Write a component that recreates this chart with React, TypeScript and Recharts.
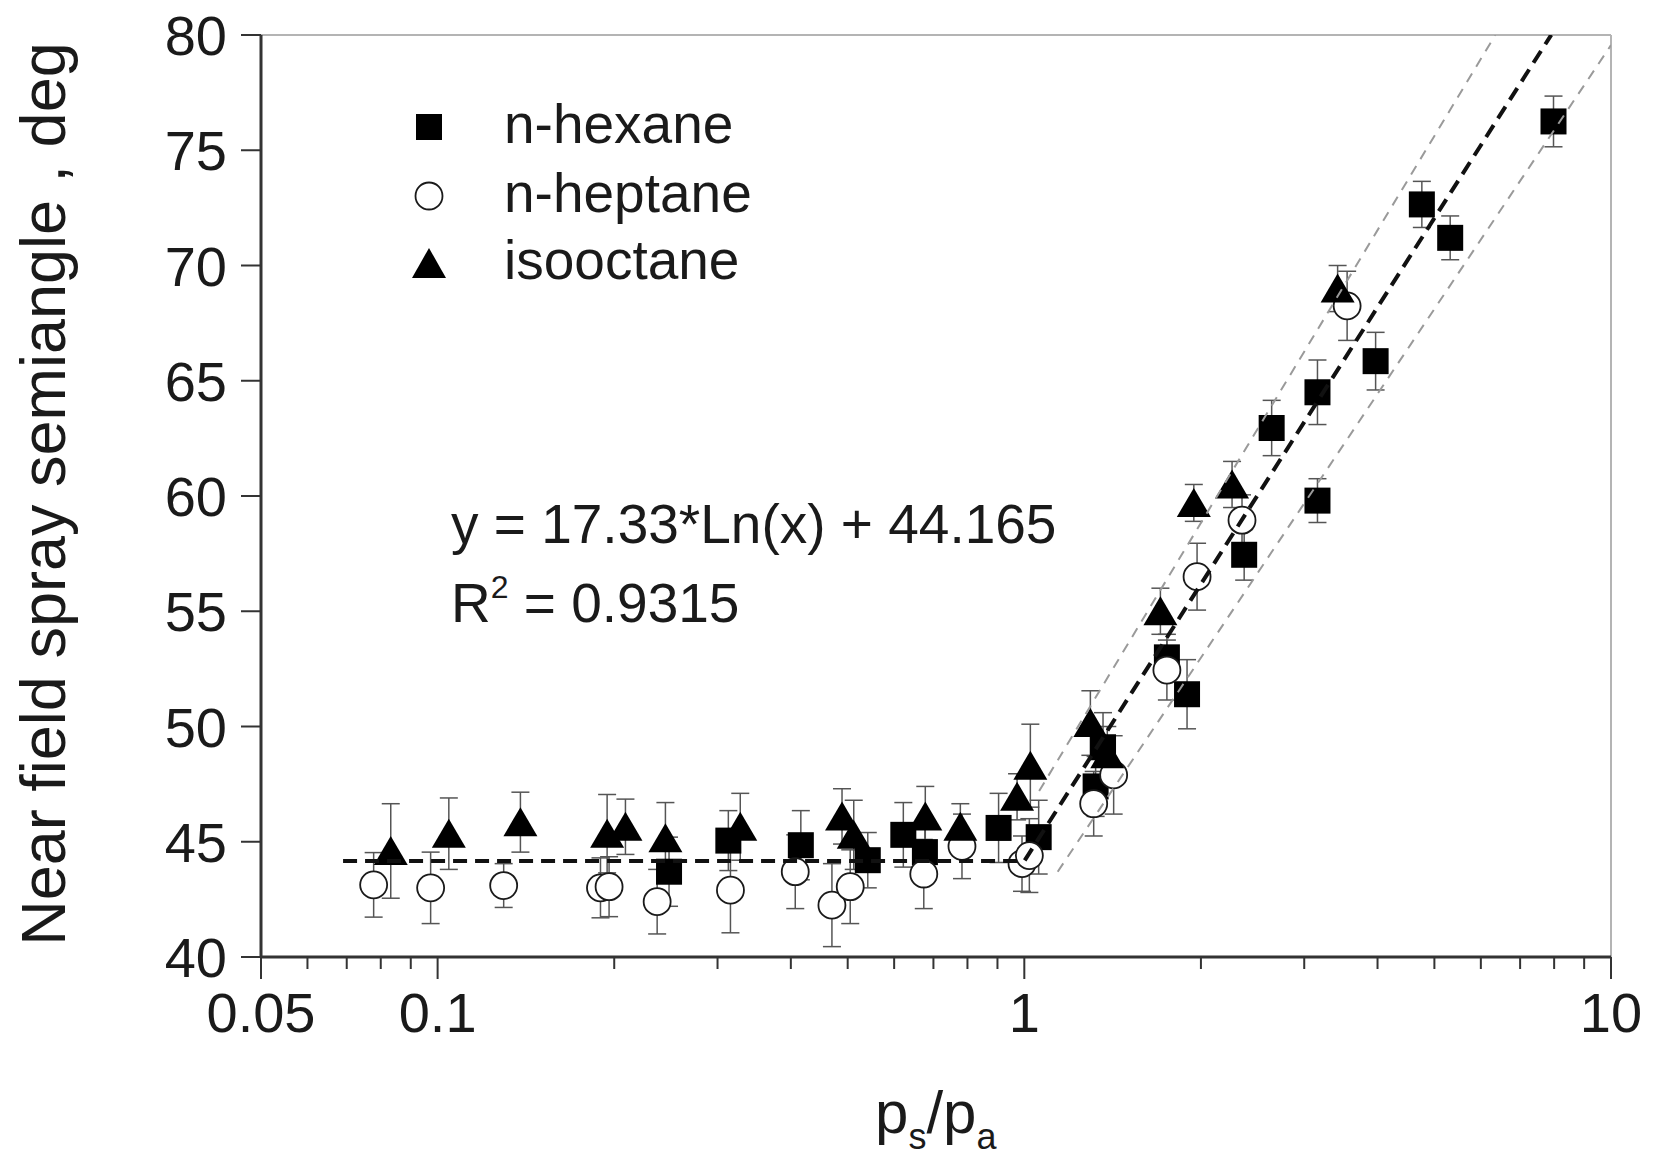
import React from "react";
import { ScatterChart, Scatter, XAxis, YAxis, ErrorBar, ReferenceLine } from "recharts";

// n-hexane (filled squares)
const hexaneX = [0.248, 0.313, 0.416, 0.541, 0.622, 0.677, 0.904, 1.058, 1.323, 1.362, 1.75, 1.894, 2.37, 2.64, 3.16, 3.16, 3.97, 4.76, 5.32, 7.98];
const hexaneY = [43.7, 45.05, 44.85, 44.2, 45.3, 44.55, 45.6, 45.2, 47.4, 49.1, 53.0, 51.4, 57.45, 62.95, 64.5, 59.8, 65.85, 72.65, 71.2, 76.25];
const hexaneErr = [1.5, 1.3, 1.5, 1.2, 1.4, 1.3, 1.5, 1.6, 1.3, 1.5, 1.0, 1.5, 1.1, 1.2, 1.4, 0.95, 1.25, 1.0, 0.95, 1.1];

// n-heptane (open circles)
const heptaneX = [0.0778, 0.0973, 0.1296, 0.1895, 0.196, 0.2367, 0.3156, 0.407, 0.47, 0.505, 0.674, 0.783, 0.991, 1.02, 1.313, 1.42, 1.75, 1.97, 2.35, 3.55];
const heptaneY = [43.13, 43.0, 43.1, 43.0, 43.05, 42.4, 42.9, 43.7, 42.25, 43.05, 43.6, 44.8, 44.05, 44.4, 46.65, 47.9, 52.45, 56.5, 58.95, 68.25];
const heptaneErr = [1.4, 1.55, 0.95, 1.3, 1.3, 1.4, 1.85, 1.6, 1.8, 1.6, 1.5, 1.4, 1.2, 1.6, 1.4, 1.7, 1.3, 1.45, 1.1, 1.5];

// isooctane (filled triangles)
const isooctaneX = [0.0832, 0.1045, 0.1384, 0.1945, 0.209, 0.2445, 0.328, 0.489, 0.512, 0.678, 0.778, 0.972, 1.024, 1.296, 1.385, 1.706, 1.945, 2.26, 3.42];
const isooctaneY = [44.6, 45.35, 45.85, 45.35, 45.65, 45.15, 45.65, 46.1, 45.3, 46.1, 45.65, 46.95, 48.3, 50.15, 48.8, 55.0, 59.7, 60.5, 69.0];
const isooctaneErr = [2.05, 1.55, 1.3, 1.7, 1.2, 1.55, 1.45, 1.2, 1.5, 1.3, 1.0, 1.0, 1.8, 1.4, 1.2, 1.0, 0.8, 1.0, 1.0];

// fit: plateau at the intercept below x = 1, log law above
const fitSlope = 17.33;
const fitIntercept = 44.165;
const fitR2 = 0.9315;
const fitX = [0.069, 1, 7.91];

// confidence band end points
const upperBandX = [1.06, 6.35];
const upperBandY = [47.2, 80];
const lowerBandX = [1.14, 10];
const lowerBandY = [43.7, 79.56];

const xTicks = [0.05, 0.06, 0.07, 0.08, 0.09, 0.1, 0.2, 0.3, 0.4, 0.5, 0.6, 0.7, 0.8, 0.9, 1, 2, 3, 4, 5, 6, 7, 8, 9, 10];
const xLabelTicks = [0.05, 0.1, 1, 10];
const yTicks = [40, 45, 50, 55, 60, 65, 70, 75, 80];

const FONT = "'Liberation Sans', Arial, sans-serif";

const toPoints = (xs: number[], ys: number[], errs?: number[]) =>
  xs.map((x, i) => ({ x, y: ys[i], err: errs ? errs[i] : 0 }));

const hexane = toPoints(hexaneX, hexaneY, hexaneErr);
const heptane = toPoints(heptaneX, heptaneY, heptaneErr);
const isooctane = toPoints(isooctaneX, isooctaneY, isooctaneErr);
const fitLine = fitX.map((x) => ({
  x,
  y: x <= 1 ? fitIntercept : fitSlope * Math.log(x) + fitIntercept,
}));
const upperBand = toPoints(upperBandX, upperBandY);
const lowerBand = toPoints(lowerBandX, lowerBandY);

const Square = (p: any) => <rect x={p.cx - 13} y={p.cy - 13} width={26} height={26} fill="#000" />;
const Circle = (p: any) => <circle cx={p.cx} cy={p.cy} r={13.5} fill="#fff" stroke="#1a1a1a" strokeWidth={1.8} />;
const Triangle = (p: any) => (
  <polygon points={`${p.cx},${p.cy - 15} ${p.cx + 17},${p.cy + 14} ${p.cx - 17},${p.cy + 14}`} fill="#000" />
);
const NoShape = () => <g />;

const XTick = (props: any) => {
  const { x, y, payload } = props;
  const major = xLabelTicks.includes(payload.value);
  return (
    <g>
      <line x1={x} x2={x} y1={y} y2={y + (major ? 22 : 12)} stroke="#333" strokeWidth={2} />
      {major && (
        <text x={x} y={y + 75} textAnchor="middle" fontSize={56} fill="#1a1a1a" fontFamily={FONT}>
          {String(payload.value)}
        </text>
      )}
    </g>
  );
};

const YTick = (props: any) => {
  const { x, y, payload } = props;
  return (
    <text x={x} y={y} dy="0.36em" textAnchor="end" fontSize={56} fill="#1a1a1a" fontFamily={FONT}>
      {payload.value}
    </text>
  );
};

export default function App() {
  const errStyle = { stroke: "#555", strokeWidth: 1.5 };
  return (
    <div style={{ position: "absolute", left: 0, top: 0, width: 1653, height: 1167, background: "#fff" }}>
      <ScatterChart width={1653} height={1167} margin={{ top: 35, right: 42, bottom: 150, left: 201 }}>
        <XAxis
          type="number"
          dataKey="x"
          scale="log"
          domain={[0.05, 10]}
          allowDataOverflow
          ticks={xTicks}
          interval={0}
          tick={<XTick />}
          tickLine={false}
          tickSize={0}
          tickMargin={0}
          height={60}
          axisLine={{ stroke: "#333", strokeWidth: 3 }}
        />
        <YAxis
          type="number"
          dataKey="y"
          domain={[40, 80]}
          allowDataOverflow
          ticks={yTicks}
          interval={0}
          tick={<YTick />}
          tickSize={20}
          tickMargin={14}
          tickLine={{ stroke: "#333", strokeWidth: 2 }}
          width={60}
          axisLine={{ stroke: "#333", strokeWidth: 3 }}
        />
        <ReferenceLine y={80} stroke="#b4b4b4" strokeWidth={2} />
        <ReferenceLine x={10} stroke="#b4b4b4" strokeWidth={2} />

        <Scatter name="n-hexane" data={hexane} shape={Square} isAnimationActive={false}>
          <ErrorBar dataKey="err" direction="y" width={9} {...errStyle} />
        </Scatter>
        <Scatter name="n-heptane" data={heptane} shape={Circle} isAnimationActive={false}>
          <ErrorBar dataKey="err" direction="y" width={9} {...errStyle} />
        </Scatter>
        <Scatter name="isooctane" data={isooctane} shape={Triangle} isAnimationActive={false}>
          <ErrorBar dataKey="err" direction="y" width={9} {...errStyle} />
        </Scatter>

        <Scatter
          data={upperBand}
          shape={NoShape}
          line={{ stroke: "#9a9a9a", strokeWidth: 2, strokeDasharray: "10 8" }}
          lineType="joint"
          isAnimationActive={false}
        />
        <Scatter
          data={lowerBand}
          shape={NoShape}
          line={{ stroke: "#9a9a9a", strokeWidth: 2, strokeDasharray: "10 8" }}
          lineType="joint"
          isAnimationActive={false}
        />
        <Scatter
          data={fitLine}
          shape={NoShape}
          line={{ stroke: "#111", strokeWidth: 4, strokeDasharray: "14 8" }}
          lineType="joint"
          isAnimationActive={false}
        />
      </ScatterChart>

      <svg
        width={1653}
        height={1167}
        style={{ position: "absolute", left: 0, top: 0, pointerEvents: "none" }}
        fontFamily={FONT}
        fill="#1a1a1a"
      >
        {/* legend */}
        <rect x={416} y={114} width={26} height={26} fill="#000" />
        <text x={504} y={143} fontSize={55}>n-hexane</text>
        <circle cx={429} cy={196} r={13.5} fill="#fff" stroke="#1a1a1a" strokeWidth={1.8} />
        <text x={504} y={212} fontSize={55}>n-heptane</text>
        <polygon points="429,248 446,278 412,278" fill="#000" />
        <text x={504} y={279} fontSize={55}>isooctane</text>

        {/* fit equation */}
        <text x={451} y={543} fontSize={55}>{`y = ${fitSlope}*Ln(x) + ${fitIntercept}`}</text>
        <text x={451} y={622} fontSize={55}>
          R<tspan fontSize={32} dy={-24}>2</tspan>
          <tspan dy={24}>{` = ${fitR2}`}</tspan>
        </text>

        {/* axis titles */}
        <text transform="translate(65,494) rotate(-90)" textAnchor="middle" fontSize={63}>
          Near field spray semiangle , deg
        </text>
        <text x={875} y={1133} fontSize={60}>
          p<tspan fontSize={36} dy={16}>s</tspan>
          <tspan dy={-16}>/p</tspan>
          <tspan fontSize={36} dy={16}>a</tspan>
        </text>
      </svg>
    </div>
  );
}
